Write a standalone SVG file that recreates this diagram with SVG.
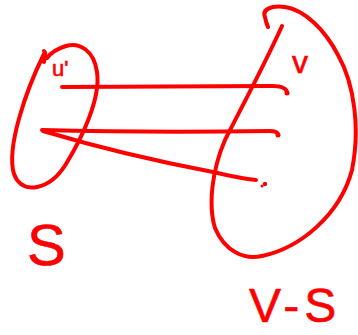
<svg xmlns="http://www.w3.org/2000/svg" width="358" height="335" viewBox="0 0 358 335">
<style>
.ink{fill:none;stroke:#ff0000;stroke-width:4;stroke-linecap:round;stroke-linejoin:round}
.dot{fill:#ff0000}
.lbl{fill:#ff0000;stroke:#ff0000;stroke-width:0.6;font-family:"Liberation Sans","DejaVu Sans",sans-serif}
</style>
<rect width="358" height="335" fill="#ffffff"/>
<g id="set-S">
<path class="ink" d="M44,62 C45,56 46,52 44,51 M44,54 C26,90 6,148 14,174 C22,196 50,190 66,164 C82,138 101,98 97,72 C94,50 79,42 66,46 C56,49 50,54 47,58"/>
<text class="lbl" x="52" y="76" font-size="22">u'</text>
<text class="lbl" x="27" y="265" font-size="58">S</text>
</g>
<g id="set-VS">
<path class="ink" d="M282,26 C262,70 240,110 225,140 C212,170 208,205 215,228 C225,252 245,260 262,256 C300,248 340,215 352,170 C360,130 355,85 338,55 C325,30 305,10 285,7 C270,5 262,10 265,17 C266,22 267,25 268,27"/>
<text class="lbl" x="292" y="73" font-size="32">v</text>
<text class="lbl" x="249" y="322" font-size="48" letter-spacing="5">V-S</text>
</g>
<g id="connectors">
<path class="ink" d="M62,87 C130,87 200,86 272,86 C282,86 286,88 287,92"/>
<circle class="dot" cx="287" cy="93" r="2.5"/>
<path class="ink" d="M42,130 C120,132 200,132 270,131 C275,131 277,132 278,134"/>
<circle class="dot" cx="278" cy="135" r="2.5"/>
<path class="ink" d="M43,131 C100,148 160,162 213,172 C230,176 245,179 256,180"/>
<circle class="dot" cx="265" cy="184" r="2.2"/>
<circle class="dot" cx="262" cy="186" r="1.5"/>
</g>
</svg>
